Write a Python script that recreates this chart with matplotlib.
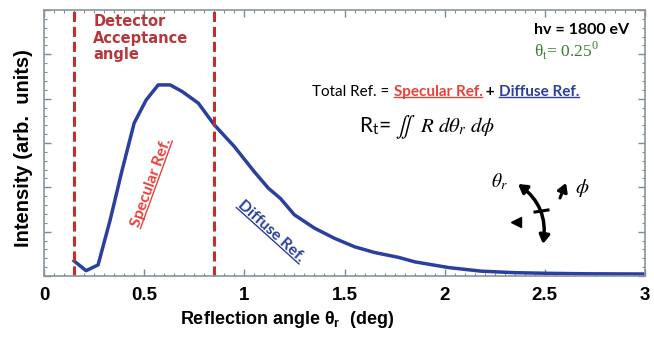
import numpy as np
import matplotlib
matplotlib.use("Agg")
import matplotlib.pyplot as plt
from matplotlib.lines import Line2D
from matplotlib.patches import FancyArrowPatch
from matplotlib.transforms import IdentityTransform
from matplotlib.ticker import MultipleLocator

# reflection angle (deg) and intensity (arb. units)
angle = [0.15, 0.21, 0.27, 0.33, 0.39, 0.45, 0.51, 0.57, 0.63, 0.69, 0.77,
         0.85, 0.95, 1.05, 1.12, 1.18, 1.25, 1.35, 1.45, 1.55, 1.65, 1.77,
         1.85, 2.02, 2.18, 2.35, 2.52, 2.7, 3.0]
intensity = [0.34, 0.12, 0.25, 1.26, 2.39, 3.45, 3.97, 4.31, 4.31, 4.16, 3.90,
             3.41, 2.92, 2.35, 1.98, 1.75, 1.38, 1.08, 0.85, 0.66, 0.53, 0.42,
             0.32, 0.19, 0.11, 0.075, 0.06, 0.05, 0.045]

# detector acceptance window
acceptance = [0.15, 0.85]

xticks = [0, 0.5, 1, 1.5, 2, 2.5, 3]
xticklabels = ["0", "0.5", "1", "1.5", "2", "2.5", "3"]

BLUE = "#2b3f9e"
DKRED = "#c0302e"
RED = "#e8413a"
TXTRED = "#b5373a"
GREEN = "#3d7b34"
SANS = ["Liberation Sans", "DejaVu Sans"]
CAL = ["Lato", "DejaVu Sans"]

fig = plt.figure(figsize=(6.54, 3.37), dpi=100)
ax = fig.add_axes([44 / 654, 1 - 276 / 337, 601 / 654, 266 / 337])

ax.plot(angle, intensity, color=BLUE, lw=2.5, solid_joinstyle="round")
for a in acceptance:
    ax.axvline(a, color=DKRED, lw=2.2, dashes=(3.3, 1.6))

ax.set_xlim(0, 3)
ax.set_ylim(0, 6)
ax.set_xticks(xticks)
ax.set_xticklabels(xticklabels, family=SANS, fontweight="bold", fontsize=13.5)
ax.xaxis.set_minor_locator(MultipleLocator(0.05))
ax.yaxis.set_major_locator(MultipleLocator(1))
ax.yaxis.set_minor_locator(MultipleLocator(0.2))
ax.tick_params(which="both", direction="in", top=True, right=True,
               color="#7f8a90")
ax.tick_params(which="major", length=5, width=1, pad=8)
ax.tick_params(which="minor", length=2.5, width=0.8)
ax.tick_params(axis="y", which="both", labelleft=False)
for sp in ax.spines.values():
    sp.set_color("#8a959b")
    sp.set_linewidth(1.2)

ax.set_xlabel(r"Reflection angle θ$_\mathregular{r}$  (deg)", family=SANS,
              fontweight="bold", fontsize=13)
ax.xaxis.set_label_coords(0.404, -0.125)
ax.set_ylabel("Intensity (arb.  units)", family=SANS, fontweight="bold",
              fontsize=14.5)
ax.yaxis.set_label_coords(-0.018, 0.48)

# annotations
ax.text(0.246, 5.9, "Detector\nAcceptance\nangle", color=TXTRED,
        family=["DejaVu Sans"], fontweight="bold", fontsize=10.5, va="top",
        ha="left", linespacing=1.1)
ax.text(2.447, 5.55, "hv = 1800 eV", family=CAL, fontweight="bold",
        fontsize=11.5, va="center", ha="left")
ax.text(2.447, 5.08, r"θ$_\mathregular{t}$= 0.25$^\mathregular{0}$",
        family=["Liberation Serif"], color=GREEN, fontsize=12.5,
        va="center", ha="left")
ax.text(1.57, 3.36, r"R$_\mathregular{t}$= $\iint\ \ R\ d\theta_r\ d\phi$",
        family=CAL, math_fontfamily="stix", fontsize=15, va="center",
        ha="left")

fig.canvas.draw()
r = fig.canvas.get_renderer()


def underline(txt, color, off=1.5, lw=1.0):
    rot = np.deg2rad(txt.get_rotation())
    txt.set_rotation(0)
    bb = txt.get_window_extent(r)
    txt.set_rotation(np.rad2deg(rot))
    cx, cy = txt.get_transform().transform(txt.get_position())
    w, h = bb.width, bb.height
    # underline in the unrotated frame, relative to the centre anchor
    u = np.array([[-w / 2, -h / 2 + off], [w / 2, -h / 2 + off]])
    c, s = np.cos(rot), np.sin(rot)
    xs = cx + u[:, 0] * c - u[:, 1] * s
    ys = cy + u[:, 0] * s + u[:, 1] * c
    fig.add_artist(Line2D(xs, ys, transform=IdentityTransform(),
                          color=color, lw=lw))


# Total Ref. line built piece by piece
parts = [("Total Ref. = ", "black", "normal", False),
         ("Specular Ref.", RED, "bold", True),
         (" + ", "black", "bold", False),
         ("Diffuse Ref.", BLUE, "bold", True)]
prev = None
for s, col, wt, ul in parts:
    if prev is None:
        t = ax.text(1.34, 4.0, s, color=col, fontweight=wt, family=CAL,
                    fontsize=11, va="bottom", ha="left")
    else:
        t = ax.annotate(s, xy=(1, 0), xycoords=prev, color=col, fontweight=wt,
                        family=CAL, fontsize=11, va="bottom", ha="left")
    fig.canvas.draw()
    if ul:
        bb = t.get_window_extent(r)
        fig.add_artist(Line2D([bb.x0, bb.x1], [bb.y0 + 2, bb.y0 + 2],
                              transform=IdentityTransform(), color=col, lw=1))
    prev = t

spec = ax.text(0.535, 2.1, "Specular Ref.", color=RED, family=CAL,
               fontweight="bold", fontsize=11.5, rotation=70,
               rotation_mode="anchor", ha="center", va="center")
diff = ax.text(1.135, 1.0, "Diffuse Ref.", color=BLUE, family=CAL,
               fontweight="bold", fontsize=11.5, rotation=-42,
               rotation_mode="anchor", ha="center", va="center")
fig.canvas.draw()
underline(spec, RED)
underline(diff, BLUE)

# rotation sketch (figure pixels)
H = 337
fig.text(499 / 654, 1 - 182 / H, r"$\theta_r$", math_fontfamily="stix",
         fontsize=14, ha="center", va="center")
fig.text(582 / 654, 1 - 188 / H, r"$\phi$", math_fontfamily="stix",
         fontsize=15, ha="center", va="center")
arc = FancyArrowPatch((518, H - 184), (543, H - 244),
                      connectionstyle="arc3,rad=-0.3",
                      arrowstyle="<|-|>,head_length=5,head_width=3",
                      lw=2.5, color="black", transform=IdentityTransform(),
                      shrinkA=0, shrinkB=0)
fig.add_artist(arc)
fig.add_artist(Line2D([535, 548], [H - 212, H - 210], lw=2.2, color="black",
                      transform=IdentityTransform()))
fig.add_artist(Line2D([516], [H - 222], marker="<", ms=7, color="black",
                      transform=IdentityTransform()))
phi = FancyArrowPatch((560, H - 198), (566, H - 183),
                      arrowstyle="-|>,head_length=5,head_width=3",
                      lw=2.2, color="black", transform=IdentityTransform(),
                      shrinkA=0, shrinkB=0)
fig.add_artist(phi)

fig.savefig("out.png", dpi=100)
